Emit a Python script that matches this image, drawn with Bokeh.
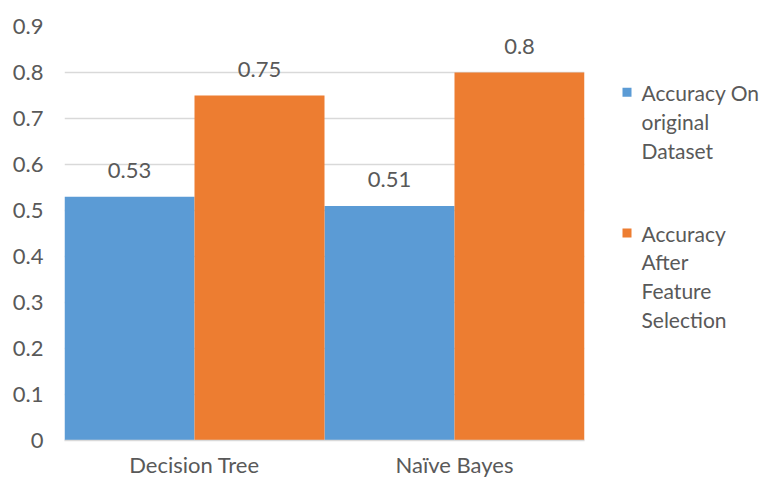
from bokeh.plotting import figure
from bokeh.models import ColumnDataSource, FactorRange, LabelSet, FixedTicker, Range1d
from bokeh.core.properties import value
from bokeh.transform import dodge
from bokeh.layouts import row
from bokeh.embed import file_html
from bokeh.resources import INLINE

categories = ["Decision Tree", "Naïve Bayes"]
acc_original = [0.53, 0.51]
acc_selected = [0.75, 0.8]
label_original = ["0.53", "0.51"]
label_selected = ["0.75", "0.8"]
series_names = ["Accuracy On\noriginal\nDataset", "Accuracy\nAfter\nFeature\nSelection"]
series_colors = ["#5B9BD5", "#ED7D31"]
y_ticks = [0, 0.1, 0.2, 0.3, 0.4, 0.5, 0.6, 0.7, 0.8, 0.9]
y_tick_labels = ["0", "0.1", "0.2", "0.3", "0.4", "0.5", "0.6", "0.7", "0.8", "0.9"]

FONT = "Lato"
GRAY = "#595959"
FS = "22px"
H = 480
TOP, BOT = 26, 441   # intended frame top/bottom in page pixels

src = ColumnDataSource(dict(cat=categories, orig=acc_original, sel=acc_selected,
                            lo=label_original, ls=label_selected))

p = figure(x_range=FactorRange(*categories, range_padding=0),
           y_range=Range1d(0, 0.9),
           width=600, height=H, output_backend="svg", toolbar_location=None,
           min_border_left=64, min_border_right=16, min_border_top=TOP,
           min_border_bottom=H - BOT)
p.outline_line_color = None

p.vbar(x=dodge("cat", -0.25, range=p.x_range), top="orig", width=0.5, source=src,
       fill_color=series_colors[0], line_color=None)
p.vbar(x=dodge("cat", 0.25, range=p.x_range), top="sel", width=0.5, source=src,
       fill_color=series_colors[1], line_color=None)

for xoff, col, lab in [(-0.25, "orig", "lo"), (0.25, "sel", "ls")]:
    p.add_layout(LabelSet(x=dodge("cat", xoff, range=p.x_range), y=col,
                          text=lab, source=src,
                          y_offset=19, text_align="center", text_baseline="bottom",
                          text_font=value(FONT), text_font_size=value(FS), text_color=GRAY))

p.xgrid.grid_line_color = None
p.ygrid.grid_line_color = "#D9D9D9"
p.ygrid.grid_line_width = 1.5
p.yaxis.ticker = FixedTicker(ticks=y_ticks)
p.yaxis.major_label_overrides = {t: l for t, l in zip(y_ticks, y_tick_labels)}
p.yaxis.axis_line_color = None
p.yaxis.major_tick_line_color = None
p.yaxis.minor_tick_line_color = None
p.yaxis.major_label_standoff = 15
p.xaxis.axis_line_color = "#D9D9D9"
p.xaxis.axis_line_width = 1.5
p.xaxis.major_tick_line_color = None
p.xaxis.minor_tick_line_color = None
p.xaxis.major_label_standoff = 4
for ax in (p.xaxis, p.yaxis):
    ax.major_label_text_font = FONT
    ax.major_label_text_font_size = FS
    ax.major_label_text_color = GRAY

# legend panel: a small figure whose frame is aligned with the main frame,
# with its y range expressed in page pixels (growing downward)
LW = 163
lg = figure(x_range=Range1d(0, LW), y_range=Range1d(BOT, TOP), width=LW, height=H,
            output_backend="svg", toolbar_location=None,
            min_border_left=0, min_border_right=0, min_border_top=TOP,
            min_border_bottom=H - BOT, x_axis_type=None, y_axis_type=None)
lg.outline_line_color = None
lg.xgrid.visible = False
lg.ygrid.visible = False

entry_top = [92, 233]      # centre of first text line of each entry (px)
line_h = 29
mx, tx = 26.5, 41
sq_x, sq_y, sq_c, t_x, t_y, t_s = [], [], [], [], [], []
for name, color, top in zip(series_names, series_colors, entry_top):
    sq_x.append(mx); sq_y.append(top); sq_c.append(color)
    for i, line in enumerate(name.split("\n")):
        t_x.append(tx); t_y.append(top + i * line_h); t_s.append(line)
lg.rect(x=sq_x, y=sq_y, width=9, height=9, fill_color=sq_c, line_color=None)
lg.text(x=t_x, y=t_y, text=t_s, text_font=value(FONT), text_font_size=value("21px"),
        text_color=GRAY, text_baseline="middle", text_align="left")

layout = row(p, lg)
open("out.html", "w").write(file_html(layout, INLINE))
